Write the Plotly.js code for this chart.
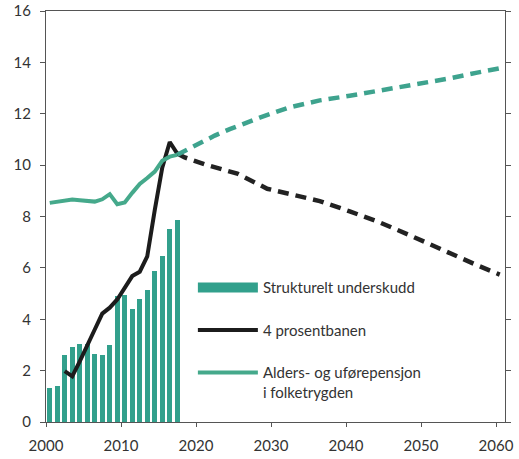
<!DOCTYPE html>
<html>
<head>
<meta charset="utf-8">
<script src="https://cdn.plot.ly/plotly-3.0.1.min.js"></script>
<style>html,body{margin:0;padding:0;background:#fff;}#chart{width:519px;height:459px;}</style>
</head>
<body>
<div id="chart"></div>
<script>
// ---- data ----
const barYears = [2000,2001,2002,2003,2004,2005,2006,2007,2008,2009,2010,2011,2012,2013,2014,2015,2016,2017];
const barValues = [1.33,1.42,2.62,2.92,3.04,3.04,2.64,2.59,2.98,4.92,4.95,4.40,4.80,5.15,5.88,6.48,7.50,7.88];

const pensionYears = [2000,2001,2002,2003,2004,2005,2006,2007,2008,2009,2010,2011,2012,2013,2014,2015,2016,2017];
const pensionValues = [8.53,8.57,8.60,8.66,8.63,8.60,8.58,8.67,8.87,8.48,8.55,8.92,9.27,9.50,9.75,10.17,10.33,10.40];
const pensionProjYears = [2017,2018,2020,2022,2024,2028,2032,2036,2040,2044,2048,2053,2057,2060];
const pensionProjValues = [10.40,10.55,10.81,11.15,11.40,11.85,12.25,12.52,12.70,12.90,13.08,13.36,13.60,13.77];

const ruleYears = [2002,2003,2004,2005,2006,2007,2008,2009,2010,2011,2012,2013,2014,2015,2016,2017];
const ruleValues = [1.98,1.78,2.36,2.94,3.60,4.22,4.45,4.77,5.20,5.68,5.85,6.45,8.25,9.90,10.90,10.45];
const ruleProjYears = [2017,2018,2021,2025,2029,2032,2036,2040,2044,2048,2053,2057,2060];
const ruleProjValues = [10.45,10.30,10.00,9.67,9.08,8.87,8.60,8.20,7.77,7.27,6.60,6.10,5.74];

const xTicks = [2000,2010,2020,2030,2040,2050,2060];
const yTicks = [0,2,4,6,8,10,12,14,16];

const names = ['Strukturelt underskudd', '4 prosentbanen', 'Alders- og uførepensjon<br>i folketrygden'];

// values are annual, plotted at mid-year
const mid = ys => ys.map(y => y + 0.5);

const barColor = '#32a08c';
const pensionColor = '#45a98b';
const ruleColor = '#1c1c1c';
const font = 'Lato, "Open Sans", sans-serif';

const traces = [
  {type:'bar', x: mid(barYears), y: barValues, width: 0.72, marker:{color: barColor},
   showlegend:false, hoverinfo:'x+y'},
  {type:'scatter', mode:'lines', x: mid(ruleYears), y: ruleValues, line:{color: ruleColor, width: 4},
   showlegend:false},
  {type:'scatter', mode:'lines', x: mid(ruleProjYears), y: ruleProjValues, line:{color: '#222', width: 4.5, dash:'11px,7px'},
   showlegend:false},
  {type:'scatter', mode:'lines', x: mid(pensionYears), y: pensionValues, line:{color: pensionColor, width: 4},
   showlegend:false},
  {type:'scatter', mode:'lines', x: mid(pensionProjYears), y: pensionProjValues, line:{color: '#3ea38e', width: 4.5, dash:'11px,7px'},
   showlegend:false},
  // legend entries
  {type:'scatter', mode:'lines', x:[null], y:[null], name: names[0], line:{color: barColor, width: 10}, legendgroup:'a'},
  {type:'scatter', mode:'lines', x:[null], y:[null], name: names[1], line:{color: ruleColor, width: 4}, legendgroup:'b'},
  {type:'scatter', mode:'lines', x:[null], y:[null], name: names[2], line:{color: pensionColor, width: 4}, legendgroup:'c'}
];

const layout = {
  width: 519, height: 459,
  margin: {l: 46, r: 14, t: 11, b: 37},
  paper_bgcolor: '#fff', plot_bgcolor: '#fff',
  font: {family: font, size: 15, color: '#333'},
  bargap: 0,
  xaxis: {range: [2000, 2061.2], tickvals: xTicks, ticktext: xTicks.map(String),
          showgrid:false, zeroline:false, showline:true, linecolor:'#555', linewidth:1,
          mirror:true, ticks:'outside', ticklen:4, tickcolor:'#555', ticklabelstandoff: 6,
          tickfont:{family: font, size: 15, color:'#333'}},
  yaxis: {range: [0, 16], tickvals: yTicks, showgrid:false, zeroline:false, showline:true,
          linecolor:'#555', linewidth:1, mirror:'ticks', ticks:'outside', ticklen:5, tickcolor:'#555',
          ticklabelstandoff: 6, tickfont:{family: font, size: 15, color:'#333'}},
  legend: {x: 0.32, xanchor:'left', y: 0.367, yanchor:'top', bgcolor:'rgba(0,0,0,0)',
           font:{family: font, size: 15, color:'#333'}, itemwidth: 60, valign:'top',
           traceorder:'grouped', tracegroupgap: 20},
  showlegend: true
};

Plotly.newPlot('chart', traces, layout, {displayModeBar:false, staticPlot:true});
</script>
</body>
</html>
